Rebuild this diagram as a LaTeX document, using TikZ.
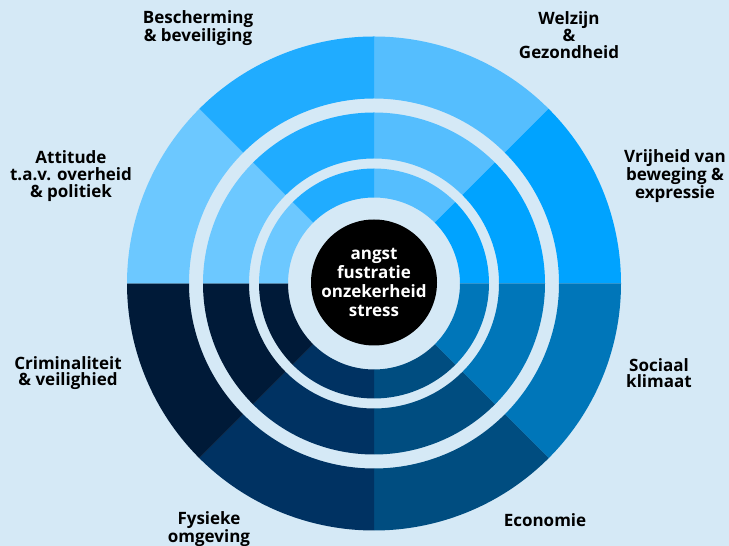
\documentclass[tikz,border=0pt]{standalone}
\usepackage{fontspec}
\setmainfont{Open Sans}
\usepackage{tikz}

\definecolor{bgblue}{HTML}{D5E9F6}
\definecolor{welzijn}{HTML}{55BEFE}
\definecolor{vrijheid}{HTML}{00A3FF}
\definecolor{sociaal}{HTML}{0076B9}
\definecolor{economie}{HTML}{004D80}
\definecolor{fysiek}{HTML}{003262}
\definecolor{crimi}{HTML}{001A38}
\definecolor{attitude}{HTML}{6CC8FF}
\definecolor{bescherm}{HTML}{20ACFF}

% one annular piece: colour, start angle, end angle, outer radius, inner radius
\newcommand{\ringpiece}[5]{%
  \fill[#1] (#2:#4) arc[start angle=#2, end angle=#3, radius=#4]
    -- (#3:#5) arc[start angle=#3, end angle=#2, radius=#5] -- cycle;}
% one sector through all three rings
\newcommand{\sector}[3]{%
  \ringpiece{#1}{#2}{#3}{247pt}{185pt}%
  \ringpiece{#1}{#2}{#3}{171pt}{125pt}%
  \ringpiece{#1}{#2}{#3}{115pt}{86pt}}

\tikzset{
  theme/.style={align=center, font=\bfseries\fontsize{17}{16.7}\selectfont, text=black},
}

\begin{document}
\begin{tikzpicture}[x=1pt, y=1pt]
	\fill[bgblue] (0,0) rectangle (729,546);
	\useasboundingbox (0,0) rectangle (729,546);
	
	\begin{scope}[shift={(374,262.5)}]
		\sector{welzijn}{45}{90}
		\sector{vrijheid}{0}{45}
		\sector{sociaal}{-45}{0}
		\sector{economie}{-90}{-45}
		\sector{fysiek}{-135}{-90}
		\sector{crimi}{-180}{-135}
		\sector{attitude}{135}{180}
		\sector{bescherm}{90}{135}
		
		\node[shape=circle, fill=black, minimum size=126pt, inner sep=0pt, align=center,
		      text=white, font=\bfseries\fontsize{17}{18.8}\selectfont] (core) at (0,1)
		      {angst\\fustratie\\onzekerheid\\stress};
	\end{scope}
	
	\node[theme] (bescherming) at (198,518) {Bescherming\\\& beveiliging};
	\node[theme] (welzijn)     at (569,511) {Welzijn\\\&\\Gezondheid};
	\node[theme] (attitude)    at (71,370)  {Attitude\\t.a.v. overheid\\\& politiek};
	\node[theme] (vrijheid)    at (675,370) {Vrijheid van\\beweging \&\\expressie};
	\node[theme] (crimi)       at (68,173)  {Criminaliteit\\\& veilighied};
	\node[theme] (sociaal)     at (659,173) {Sociaal\\klimaat};
	\node[theme] (fysiek)      at (209,17)  {Fysieke\\omgeving};
	\node[theme] (economie)    at (545,26)  {Economie};

\end{tikzpicture}
\end{document}
